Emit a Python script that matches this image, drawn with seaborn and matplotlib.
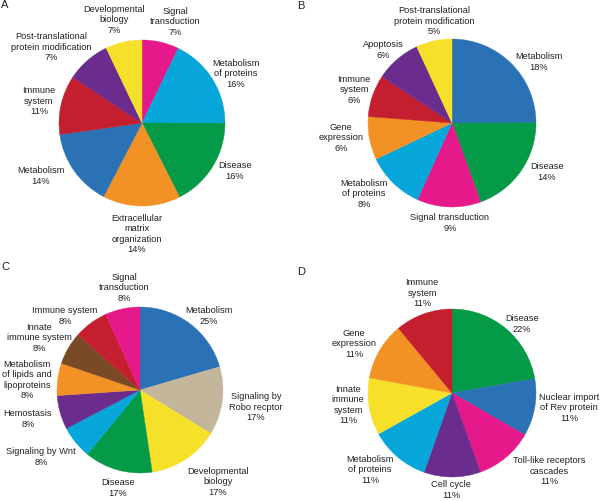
import numpy as np
import seaborn as sns
import matplotlib
matplotlib.use("Agg")
import matplotlib.pyplot as plt

a_labels = ["Signal\ntransduction", "Metabolism\nof proteins", "Disease",
            "Extracellular\nmatrix\norganization", "Metabolism", "Immune\nsystem",
            "Post-translational\nprotein modification", "Developmental\nbiology"]
a_share = [7.2, 17.8, 17.5, 15.1, 15.1, 11.5, 8.6, 7.1]
a_pct = [7, 16, 16, 14, 14, 11, 7, 7]
a_colors = ["pink", "cyan", "green", "orange", "blue", "red", "purple", "yellow"]

b_labels = ["Metabolism", "Disease", "Signal transduction", "Metabolism\nof proteins",
            "Gene\nexpression", "Immune\nsystem", "Apoptosis",
            "Post-translational\nprotein modification"]
b_share = [25.0, 19.5, 12.3, 11.2, 8.3, 8.1, 8.8, 6.9]
b_pct = [18, 14, 9, 8, 6, 6, 6, 5]
b_colors = ["blue", "green", "pink", "cyan", "orange", "red", "purple", "yellow"]

c_labels = ["Metabolism", "Signaling by\nRobo recptor", "Developmental\nbiology", "Disease",
            "Signaling by Wnt", "Hemostasis", "Metabolism\nof lipids and\nlipoproteins",
            "Innate\nimmune system", "Immune system", "Signal\ntransduction"]
c_share = [20.5, 13.3, 13.9, 13.3, 6.4, 6.6, 6.3, 6.4, 6.6, 6.8]
c_pct = [25, 17, 17, 17, 8, 8, 8, 8, 8, 8]
c_colors = ["blue", "tan", "yellow", "green", "cyan", "purple", "orange", "brown", "red", "pink"]

d_labels = ["Disease", "Nuclear import\nof Rev protein", "Toll-like receptors\ncascades",
            "Cell cycle", "Metabolism\nof proteins", "Innate\nimmune\nsystem",
            "Gene\nexpression", "Immune\nsystem"]
d_share = [22.3, 11.0, 11.2, 10.9, 11.5, 11.0, 11.1, 11.0]
d_pct = [22, 11, 11, 11, 11, 11, 11, 11]
d_colors = ["green", "blue", "pink", "purple", "cyan", "yellow", "orange", "red"]

# label centres, pixel offsets from the pie centre (x right, y down)
a_lab_xy = [(33, -101), (94, -49), (93, 48), (-5, 111), (-101, 53), (-103, -22),
            (-91, -76), (-28, -103)]
b_lab_xy = [(87, -61), (95, 49), (-2, 100), (-88, 71), (-111, 15), (-98, -33),
            (-69, -73), (-18, -102)]
c_lab_xy = [(69, -74), (116, 17), (78, 92), (-22, 98), (-99, 67), (-112, 29),
            (-113, -10), (-101, -52), (-75, -74), (-16, -102)]
d_lab_xy = [(70, -69), (117, 15), (97, 78), (-1, 97), (-82, 77), (-104, 12),
            (-98, -49), (-30, -100)]

sns.set_theme(style="white")
plt.rcParams['font.family'] = ['Liberation Sans', 'DejaVu Sans']

palette = dict(zip(
    ["blue", "green", "pink", "cyan", "orange", "red", "purple", "yellow", "tan", "brown"],
    sns.color_palette(["#2a72b5", "#049a48", "#e5198a", "#06a6da", "#f39224",
                       "#c41f2f", "#6a2d8e", "#f7e02a", "#c4b69a", "#7a4a26"])))

W, H = 600, 501
fig = plt.figure(figsize=(6.0, 5.01), dpi=100)

panels = [
    ("A", a_labels, a_share, a_pct, a_colors, a_lab_xy, (142, 123), 83, (5, 5)),
    ("B", b_labels, b_share, b_pct, b_colors, b_lab_xy, (452, 123), 84, (301, 6)),
    ("C", c_labels, c_share, c_pct, c_colors, c_lab_xy, (140, 390), 83, (5, 267)),
    ("D", d_labels, d_share, d_pct, d_colors, d_lab_xy, (452, 393), 84, (301, 272)),
]

for letter, labels, share, pct, cols, lab_xy, (cx, cy), r, (lx, ly) in panels:
    ax = fig.add_axes([(cx - r) / W, (H - cy - r) / H, 2 * r / W, 2 * r / H])
    texts = [f"{lab}\n{p}%" for lab, p in zip(labels, pct)]
    colors = [palette[c] for c in cols]
    wedges, txts = ax.pie(share, labels=texts, colors=colors, startangle=90,
                          counterclock=False,
                          wedgeprops=dict(linewidth=0),
                          textprops=dict(fontsize=6.7, color="#222222"))
    for w in wedges:
        w.set_edgecolor(w.get_facecolor())
        w.set_linewidth(0.3)
    for t, (dx, dy) in zip(txts, lab_xy):
        t.set_position((dx / r, -dy / r))
        t.set_ha("center")
        t.set_va("center")
        t.set_multialignment("center")
        t.set_linespacing(1.15)
    ax.set_xlim(-1, 1)
    ax.set_ylim(-1, 1)
    ax.set_aspect("equal")
    ax.axis("off")
    fig.text(lx / W, 1 - ly / H, letter, fontsize=8, ha="center", va="center",
             color="#222222")

plt.savefig("out.png", dpi=100)
